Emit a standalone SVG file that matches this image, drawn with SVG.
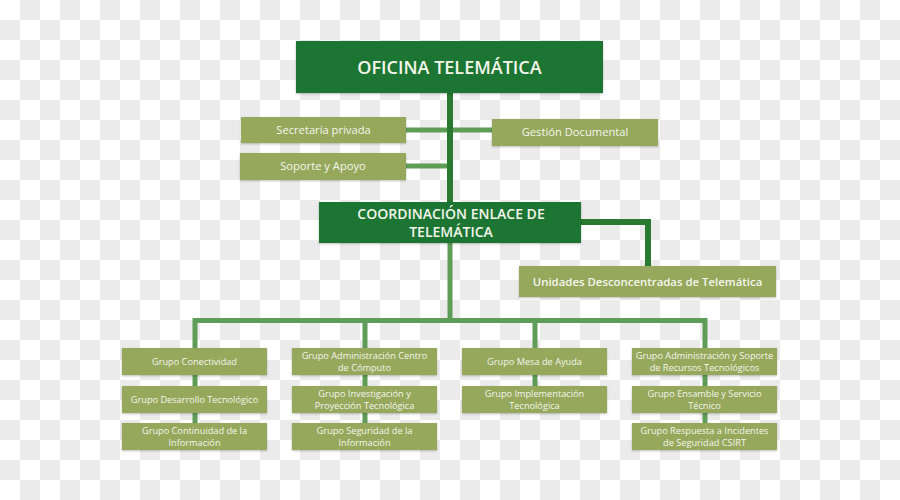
<svg xmlns="http://www.w3.org/2000/svg" width="900" height="500" viewBox="0 0 900 500">
<defs>
<pattern id="chk" width="40" height="40" patternUnits="userSpaceOnUse">
<rect width="40" height="40" fill="#ffffff"/>
<rect x="20" y="0" width="20" height="20" fill="#ebebeb"/>
<rect x="0" y="20" width="20" height="20" fill="#ebebeb"/>
</pattern>
<filter id="sh" x="-5%" y="-10%" width="110%" height="130%">
<feDropShadow dx="0" dy="1" stdDeviation="0.8" flood-color="#000" flood-opacity="0.25"/>
</filter>
</defs>
<style>
.dk{fill:#1f7530;filter:url(#sh)}
.ol{fill:#96a85b;filter:url(#sh)}
.t{font-family:"Open Sans","Liberation Sans",sans-serif;fill:#f4f6ec;text-anchor:middle}
.big{font-size:18px;font-weight:600}
.mid{font-size:14px;font-weight:600}
.sm{font-size:11.2px}
.un{font-size:11.4px;font-weight:600}
.xs{font-size:9.2px}
.cd{stroke:#2a7a2f;stroke-width:6;fill:none}
.cl{stroke:#5e9d58;stroke-width:5;fill:none}
</style>
<rect width="900" height="500" fill="url(#chk)"/>
<g id="connectors">
<line class="cl" x1="406" y1="130" x2="492" y2="130"/>
<line class="cl" x1="406" y1="166" x2="450" y2="166"/>
<line class="cd" x1="450" y1="93" x2="450" y2="202"/>
<polyline class="cd" points="581,222 648,222 648,266"/>
<line class="cl" x1="450" y1="243" x2="450" y2="320"/>
<polyline class="cl" points="195,348 195,320.5 705,320.5 705,348"/>
<line class="cl" x1="365" y1="320" x2="365" y2="348"/>
<line class="cl" x1="535" y1="320" x2="535" y2="348"/>
<line class="cl" x1="195" y1="375" x2="195" y2="423"/>
<line class="cl" x1="365" y1="375" x2="365" y2="423"/>
<line class="cl" x1="535" y1="375" x2="535" y2="386"/>
<line class="cl" x1="705" y1="375" x2="705" y2="423"/>
</g>
<g id="oficina"><rect class="dk" x="296" y="41" width="307" height="52"/><text class="t big" x="449.5" y="74">OFICINA TELEMÁTICA</text></g>
<g id="secretaria"><rect class="ol" x="241" y="117" width="165" height="26"/><text class="t sm" x="323.5" y="134">Secretaría privada</text></g>
<g id="gestion"><rect class="ol" x="492" y="119" width="166" height="27"/><text class="t sm" x="575" y="136">Gestión Documental</text></g>
<g id="soporte"><rect class="ol" x="240" y="153" width="166" height="27"/><text class="t sm" x="323" y="170">Soporte y Apoyo</text></g>
<g id="coordinacion"><rect class="dk" x="319" y="202" width="262" height="41"/><text class="t mid" x="451" y="219">COORDINACIÓN ENLACE DE</text><text class="t mid" x="451" y="237">TELEMÁTICA</text></g>
<g id="unidades"><rect class="ol" x="519" y="266" width="257" height="31"/><text class="t un" x="647.5" y="286">Unidades Desconcentradas de Telemática</text></g>
<g id="conectividad"><rect class="ol" x="122" y="348" width="145" height="27"/><text class="t xs" x="194.5" y="365">Grupo Conectividad</text></g>
<g id="desarrollo"><rect class="ol" x="122" y="386" width="145" height="27"/><text class="t xs" x="194.5" y="403">Grupo Desarrollo Tecnológico</text></g>
<g id="continuidad"><rect class="ol" x="122" y="423" width="145" height="27"/><text class="t xs" x="194.5" y="433.5">Grupo Continuidad de la</text><text class="t xs" x="194.5" y="445.5">Información</text></g>
<g id="centro"><rect class="ol" x="292" y="348" width="145" height="27"/><text class="t xs" x="364.5" y="359">Grupo Administración  Centro</text><text class="t xs" x="364.5" y="371">de Cómputo</text></g>
<g id="investigacion"><rect class="ol" x="292" y="386" width="145" height="27"/><text class="t xs" x="364.5" y="396.5">Grupo Investigación y</text><text class="t xs" x="364.5" y="408.5">Proyección Tecnológica</text></g>
<g id="seguridad"><rect class="ol" x="292" y="423" width="145" height="27"/><text class="t xs" x="364.5" y="433.5">Grupo Seguridad de la</text><text class="t xs" x="364.5" y="445.5">Información</text></g>
<g id="mesa"><rect class="ol" x="462" y="348" width="145" height="27"/><text class="t xs" x="534.5" y="365">Grupo Mesa de Ayuda</text></g>
<g id="implementacion"><rect class="ol" x="462" y="386" width="145" height="27"/><text class="t xs" x="534.5" y="396.5">Grupo Implementación</text><text class="t xs" x="534.5" y="408.5">Tecnológica</text></g>
<g id="recursos"><rect class="ol" x="632" y="348" width="145" height="27"/><text class="t xs" x="704.5" y="359">Grupo Administración y Soporte</text><text class="t xs" x="704.5" y="371">de Recursos Tecnológicos</text></g>
<g id="ensamble"><rect class="ol" x="632" y="386" width="145" height="27"/><text class="t xs" x="704.5" y="396.5">Grupo Ensamble y Servicio</text><text class="t xs" x="704.5" y="408.5">Técnico</text></g>
<g id="csirt"><rect class="ol" x="632" y="423" width="145" height="27"/><text class="t xs" x="704.5" y="433.5">Grupo Respuesta a Incidentes</text><text class="t xs" x="704.5" y="445.5">de Seguridad CSIRT</text></g>
</svg>
